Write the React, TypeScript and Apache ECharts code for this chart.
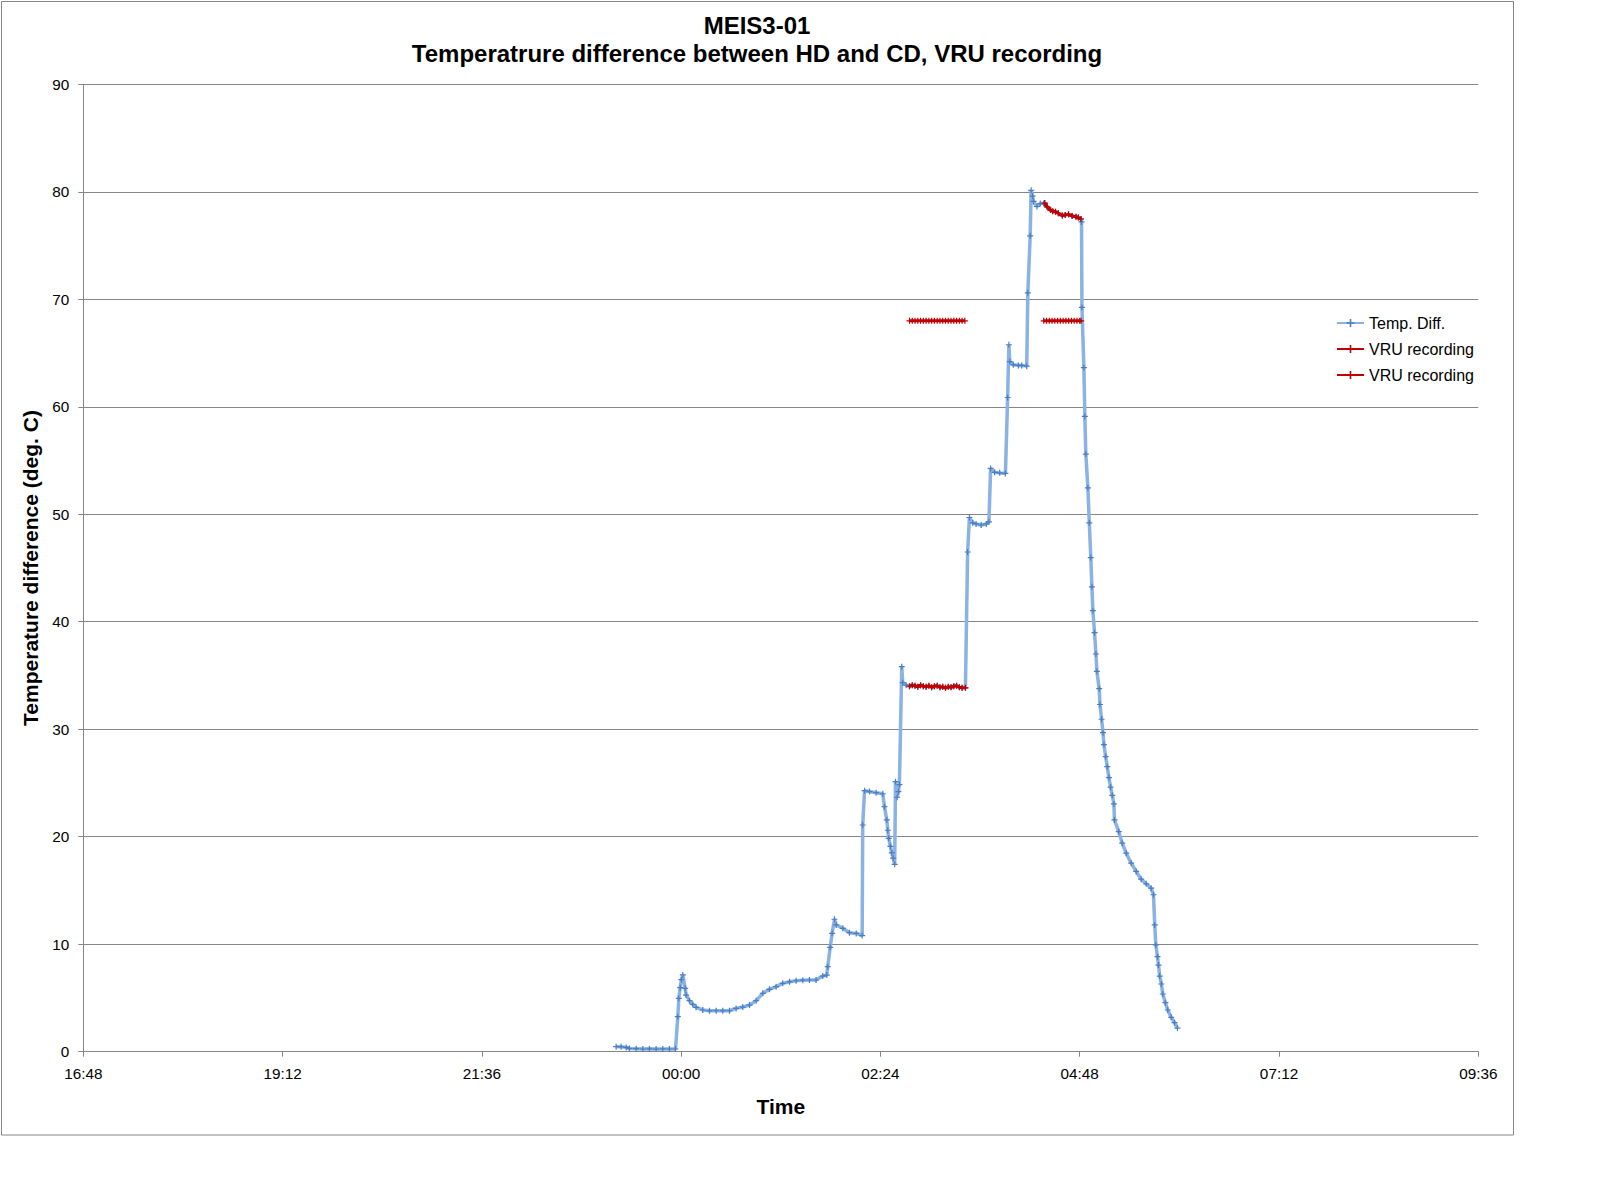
import React, { useEffect, useRef } from 'react';
import * as echarts from 'echarts';

// Time in minutes relative to midnight (negative = before 00:00)
const xMin = -432; // 16:48
const xMax = 576; // 09:36
const xInterval = 144; // 2h24

const tempMinutes = [
  -47.0, -43.4, -39.7, -37.4, -32.5, -27.7, -22.9, -18.1, -13.3, -8.5, -4.1,
  -2.4, -1.7, -0.7, 0.2, 1.2, 2.9, 3.6, 6.0, 8.4, 10.8, 15.6, 20.5, 25.3, 30.1,
  34.9, 39.7, 44.5, 49.4, 54.2, 59.0, 63.8, 68.6, 73.4, 78.3, 83.1, 87.9, 92.7,
  97.5, 102.3, 105.2, 105.9, 107.7, 109.1, 110.8, 112.0, 116.8, 121.6, 126.5,
  130.8, 131.2, 132.5, 136.1, 140.9, 145.7, 146.9, 148.6, 149.3, 150.0, 151.2,
  152.2, 153.2, 154.3, 154.9, 156.1, 157.0, 157.7, 159.4, 160.1, 162.6,
  165, 167, 169, 171, 173, 175, 177, 179, 181, 183, 185, 187, 189, 191, 193,
  195, 197, 199, 201, 203, 205.4,
  207.0, 208.3, 210.7, 213.1, 216.8, 220.5, 222.4, 223.6, 226.5, 230.2, 234.3,
  235.9, 236.8, 237.5, 240.0, 243.7, 246.1, 249.7, 250.5, 252.2, 252.9, 253.9,
  254.6, 257.1, 259.5, 261.9,
  262.7, 264.5, 266.9, 268.5, 270.5, 272.5, 275.4, 277.5, 279.9, 282.5, 285.3,
  287.0, 288.9,
  289.3, 289.6, 291.0, 291.7, 292.4, 293.9, 294.9, 296.0, 296.8, 297.5, 298.7,
  299.7, 300.4, 302.1, 302.6, 303.8, 304.8, 305.5, 306.7, 307.9, 309.1, 310.3,
  311.5, 312.7, 313.1, 316.2, 318.7, 321.6, 325.2, 328.8, 332.4, 336.0, 339.6,
  341.3, 342.2, 343.0, 344.2, 344.9, 345.8, 347.0, 348.0, 349.9, 351.6, 354.1,
  356.5, 358.6,
];
const tempValues = [
  0.47, 0.45, 0.4, 0.3, 0.28, 0.25, 0.27, 0.24, 0.26, 0.25, 0.25,
  3.26, 4.97, 5.96, 6.7, 7.14, 5.9, 5.27, 4.75, 4.4, 4.13, 3.88, 3.8, 3.81, 3.8,
  3.81, 4.03, 4.15, 4.34, 4.75, 5.43, 5.8, 6.05, 6.36, 6.5, 6.6, 6.65, 6.67,
  6.67, 7.04, 7.13, 7.91, 9.71, 11.01, 12.32, 11.79, 11.48, 11.07, 11.0,
  10.8, 21.09, 24.28, 24.2, 24.1, 24.0, 22.8, 21.56, 20.6, 19.85, 19.1,
  18.5, 18.0, 17.43, 25.12, 23.67, 24.2, 24.85, 35.82, 34.33, 34.1,
  34.0, 34.1, 34.05, 33.95, 34.1, 34.0, 33.95, 34.05, 33.9, 34.0, 34.05, 33.9,
  33.95, 33.85, 33.95, 33.9, 34.0, 34.05, 33.9, 33.85, 33.85,
  46.49, 49.7, 49.2, 49.1, 49.0, 49.1, 49.3, 54.26, 53.9, 53.85, 53.8,
  60.86, 65.77, 64.2, 63.9, 63.85, 63.85, 63.78, 70.6, 75.9, 80.14, 79.6,
  79.1, 78.63, 78.9, 78.9,
  78.95, 78.6, 78.3, 78.2, 78.15, 78.0, 77.79, 77.85, 77.9, 77.75, 77.68,
  77.6, 77.47,
  77.2, 69.24, 63.64, 59.1, 55.6, 52.46, 49.2, 45.97, 43.25, 41.03, 38.98,
  37.0, 35.38, 33.77, 32.3, 30.93, 29.68, 28.57, 27.46, 26.52, 25.5, 24.61,
  23.85, 23.05, 21.56, 20.47, 19.4, 18.47, 17.54, 16.77, 16.05, 15.62, 15.21,
  14.6, 11.79, 9.93, 8.84, 8.06, 7.04, 6.3, 5.37, 4.56, 3.88, 3.2,
  2.7, 2.2,
];

// VRU recording flag (level 68) during the two recording windows
const vruFlagMinutes = [
  165, 167, 169, 171, 173, 175, 177, 179, 181, 183, 185, 187, 189, 191, 193,
  195, 197, 199, 201, 203, 205,
  233,
  262, 264, 266, 268, 270, 272, 274, 276, 278, 280, 282, 284, 286, 288, 289,
];
const vruFlagValues = [
  68, 68, 68, 68, 68, 68, 68, 68, 68, 68, 68, 68, 68, 68, 68,
  68, 68, 68, 68, 68, 68,
  null,
  68, 68, 68, 68, 68, 68, 68, 68, 68, 68, 68, 68, 68, 68, 68,
];

// Temperature difference during the VRU recordings
const vruTempMinutes = [
  165, 167, 169, 171, 173, 175, 177, 179, 181, 183, 185, 187, 189, 191, 193,
  195, 197, 199, 201, 203, 205.4,
  233,
  262.7, 264.5, 266.9, 268.5, 270.5, 272.5, 275.4, 277.5, 279.9, 282.5, 285.3,
  287.0, 288.9,
];
const vruTempValues = [
  34.0, 34.1, 34.05, 33.95, 34.1, 34.0, 33.95, 34.05, 33.9, 34.0, 34.05, 33.9,
  33.95, 33.85, 33.95, 33.9, 34.0, 34.05, 33.9, 33.85, 33.85,
  null,
  78.95, 78.6, 78.3, 78.2, 78.15, 78.0, 77.79, 77.85, 77.9, 77.75, 77.68,
  77.6, 77.47,
];

const seriesNames = ['Temp. Diff.', 'VRU recording 1', 'VRU recording 2'];

const FONT = '"Liberation Sans", Arial, Helvetica, sans-serif';
const GRAY = '#868686';
const BLUE_LINE = '#8AB2E2';
const BLUE_MARK = '#4A7EC4';
const RED = '#C00000';
const PLUS = 'path://M2,0L3,0L3,2L5,2L5,3L3,3L3,5L2,5L2,3L0,3L0,2L2,2Z';

function fmtTime(v: number): string {
  const m = ((Math.round(v) % 1440) + 1440) % 1440;
  const h = Math.floor(m / 60);
  const mm = m % 60;
  return String(h).padStart(2, '0') + ':' + String(mm).padStart(2, '0');
}

function pairs(xs: number[], ys: (number | null)[]) {
  return xs.map((x, i) => [x, ys[i] === null ? '-' : ys[i]]);
}

export default function App() {
  const ref = useRef<HTMLDivElement>(null);
  useEffect(() => {
    if (!ref.current) return;
    const chart = echarts.init(ref.current, undefined, { renderer: 'svg' });
    chart.setOption({
      animation: false,
      backgroundColor: '#ffffff',
      textStyle: { fontFamily: FONT },
      title: {
        text: 'MEIS3-01\nTemperatrure difference between HD and CD, VRU recording',
        left: 757,
        top: 12,
        textAlign: 'center',
        padding: 0,
        textStyle: {
          fontFamily: FONT,
          fontSize: 24,
          fontWeight: 'bold',
          color: '#000',
          lineHeight: 27.5,
        },
      },
      legend: {
        orient: 'vertical',
        left: 1336,
        top: 315,
        padding: 0,
        itemWidth: 27,
        itemHeight: 10,
        itemGap: 10,
        data: seriesNames,
        formatter: (name: string) => name.replace(/ \d$/, ''),
        textStyle: { fontFamily: FONT, fontSize: 16, color: '#000' },
      },
      graphic: [
        {
          type: 'rect',
          shape: { x: 1.5, y: 1.5, width: 1512, height: 1133.5 },
          style: { fill: 'none', stroke: GRAY, lineWidth: 1 },
          silent: true,
        },
      ],
      grid: { left: 83.3, top: 84.3, width: 1395, height: 967.4, containLabel: false },
      xAxis: {
        type: 'value',
        min: xMin,
        max: xMax,
        interval: xInterval,
        name: 'Time',
        nameLocation: 'middle',
        nameGap: 44,
        nameTextStyle: { fontFamily: FONT, fontSize: 21, fontWeight: 'bold', color: '#000' },
        axisLine: { show: true, onZero: false, lineStyle: { color: GRAY, width: 1 } },
        axisTick: { show: true, length: 5, lineStyle: { color: GRAY } },
        axisLabel: {
          formatter: (v: number) => fmtTime(v),
          fontFamily: FONT,
          fontSize: 15.3,
          color: '#000',
          margin: 14,
        },
        splitLine: { show: false },
      },
      yAxis: {
        type: 'value',
        min: 0,
        max: 90,
        interval: 10,
        name: 'Temperature difference (deg. C)',
        nameLocation: 'middle',
        nameRotate: 90,
        nameGap: 42,
        nameTextStyle: { fontFamily: FONT, fontSize: 21, fontWeight: 'bold', color: '#000' },
        axisLine: { show: true, onZero: false, lineStyle: { color: GRAY, width: 1 } },
        axisTick: { show: true, length: 5, lineStyle: { color: GRAY } },
        axisLabel: { fontFamily: FONT, fontSize: 15.3, color: '#000', margin: 14 },
        splitLine: { show: true, lineStyle: { color: GRAY, width: 1 } },
      },
      series: [
        {
          name: seriesNames[0],
          type: 'line',
          data: pairs(tempMinutes, tempValues),
          lineStyle: { color: BLUE_LINE, width: 3.5 },
          itemStyle: { color: BLUE_MARK },
          symbol: PLUS,
          symbolSize: 6,
          showSymbol: true,
          z: 2,
        },
        {
          name: seriesNames[1],
          type: 'line',
          data: pairs(vruFlagMinutes, vruFlagValues),
          connectNulls: false,
          lineStyle: { color: RED, width: 3 },
          itemStyle: { color: RED },
          symbol: PLUS,
          symbolSize: 6,
          showSymbol: true,
          z: 3,
        },
        {
          name: seriesNames[2],
          type: 'line',
          data: pairs(vruTempMinutes, vruTempValues),
          connectNulls: false,
          lineStyle: { color: RED, width: 3 },
          itemStyle: { color: RED },
          symbol: PLUS,
          symbolSize: 6,
          showSymbol: true,
          z: 4,
        },
      ],
    });
    return () => chart.dispose();
  }, []);
  return (
    <div
      ref={ref}
      style={{ position: 'absolute', left: 0, top: 0, width: 1598, height: 1202, background: '#fff' }}
    />
  );
}
